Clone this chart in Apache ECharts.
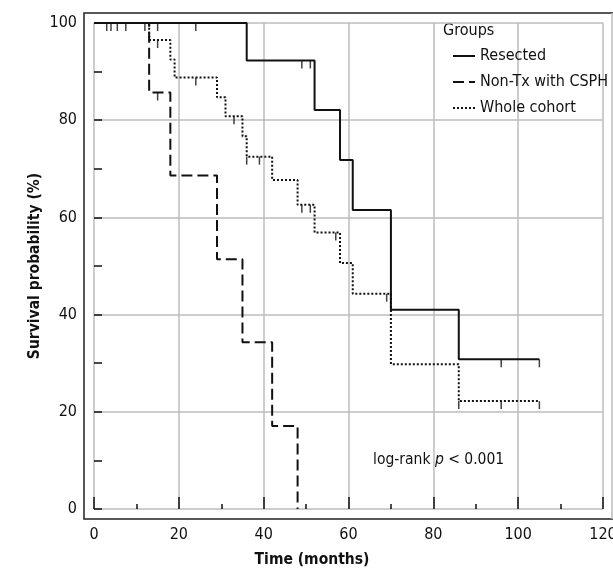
<!DOCTYPE html>
<html>
<head>
<meta charset="utf-8">
<script src="https://cdn.jsdelivr.net/npm/echarts@6/dist/echarts.min.js"></script>
<style>
html, body { margin: 0; padding: 0; background: #fff; }
#km { width: 613px; height: 569px; }
</style>
</head>
<body>
<div id="km"></div>
<script>
// Kaplan-Meier steps
var resectedTime = [0, 36, 52, 58, 61, 70, 86, 105];
var resectedSurv = [100, 92.3, 82.1, 71.8, 61.5, 41.0, 30.8, 30.8];
var nonTxTime = [0, 13, 18, 29, 35, 42, 48];
var nonTxSurv = [100, 85.7, 68.6, 51.4, 34.3, 17.1, 0];
var wholeTime = [0, 13, 18, 19, 29, 31, 35, 36, 42, 48, 52, 58, 61, 70, 86, 105];
var wholeSurv = [100, 96.5, 92.5, 88.8, 84.7, 80.8, 76.7, 72.5, 67.7, 62.6, 56.9, 50.6, 44.3, 29.8, 22.2, 22.2];

// censored observations
var resectedCensorTime = [3, 4, 5.5, 7.5, 12, 15, 24, 49, 51, 96, 105];
var resectedCensorSurv = [100, 100, 100, 100, 100, 100, 100, 92.3, 92.3, 30.8, 30.8];
var nonTxCensorTime = [15];
var nonTxCensorSurv = [85.7];
var wholeCensorTime = [15, 24, 33, 36, 39, 49, 51, 57, 69, 86, 96, 105];
var wholeCensorSurv = [96.5, 88.8, 80.8, 72.5, 72.5, 62.6, 62.6, 56.9, 44.3, 22.2, 22.2, 22.2];

var groupNames = ['Resected', 'Non-Tx with CSPH', 'Whole cohort'];

var font = '"DejaVu Sans Condensed", "DejaVu Sans", sans-serif';
var ink = '#111';

function pairs(xs, ys) {
    return xs.map(function (x, i) { return [x, ys[i]]; });
}

function stepLine(name, xs, ys, type, width) {
    return {
        name: name,
        type: 'line',
        step: 'end',
        symbol: 'none',
        silent: true,
        animation: false,
        lineStyle: { color: ink, width: width, type: type },
        itemStyle: { color: ink },
        data: pairs(xs, ys)
    };
}

function censor(xs, ys) {
    return {
        type: 'scatter',
        symbol: 'rect',
        symbolSize: [1.5, 8],
        symbolOffset: [0, 4],
        silent: true,
        animation: false,
        itemStyle: { color: ink },
        data: pairs(xs, ys)
    };
}

var option = {
    animation: false,
    grid: { left: 94, right: 10, top: 23, bottom: 60, outerBoundsMode: 'none' },
    legend: {
        data: groupNames,
        orient: 'vertical',
        left: 447,
        top: 43,
        itemWidth: 22,
        itemHeight: 10,
        itemGap: 10,
        itemStyle: { opacity: 0 },
        textStyle: { fontSize: 16, fontFamily: font, color: ink }
    },
    xAxis: {
        type: 'value',
        min: 0,
        max: 120,
        interval: 20,
        offset: 10,
        name: 'Time (months)',
        nameLocation: 'middle',
        nameGap: 33,
        nameMoveOverlap: false,
        nameTextStyle: { fontSize: 15.5, fontWeight: 'bold', fontFamily: font, color: ink, padding: [0, 73, 0, 0] },
        axisLine: { show: false },
        axisTick: { show: true, inside: true, length: 12, lineStyle: { color: ink, width: 1.5 } },
        minorTick: { show: true, splitNumber: 2, length: 5, lineStyle: { color: ink, width: 1.5 } },
        axisLabel: { fontSize: 16, fontFamily: font, color: ink, margin: 8, showMaxLabel: true },
        splitLine: { show: true, lineStyle: { color: '#bdbdbd', width: 1.5 } }
    },
    yAxis: {
        type: 'value',
        min: 0,
        max: 100,
        interval: 20,
        offset: 10,
        name: 'Survival probability (%)',
        nameLocation: 'middle',
        nameGap: 41,
        nameMoveOverlap: false,
        nameTextStyle: { fontSize: 15.5, fontWeight: 'bold', fontFamily: font, color: ink },
        axisLine: { show: false },
        axisTick: { show: true, inside: true, length: 8, lineStyle: { color: ink, width: 1.5 } },
        minorTick: { show: true, splitNumber: 2, length: 8, lineStyle: { color: ink, width: 1.5 } },
        axisLabel: { fontSize: 16, fontFamily: font, color: ink, margin: 7 },
        splitLine: { show: true, lineStyle: { color: '#bdbdbd', width: 1.5 } }
    },
    graphic: [
        {
            type: 'polyline',
            silent: true,
            shape: { points: [[613, 13], [84, 13], [84, 519], [613, 519]] },
            style: { stroke: '#222', lineWidth: 1.5, fill: null }
        },
        {
            type: 'line',
            silent: true,
            shape: { x1: 612, y1: 13, x2: 612, y2: 519 },
            style: { stroke: '#bdbdbd', lineWidth: 1.5 }
        },
        {
            type: 'text',
            left: 443,
            top: 23,
            style: { text: 'Groups', fontSize: 16, fontFamily: font, fill: ink }
        },
        {
            type: 'text',
            left: 373,
            top: 452,
            style: {
                text: '{a|log-rank }{b|p}{a| < 0.001}',
                rich: {
                    a: { fontSize: 15.5, fontFamily: font, fill: ink },
                    b: { fontSize: 15.5, fontFamily: font, fontStyle: 'italic', fill: ink }
                }
            }
        }
    ],
    series: [
        stepLine(groupNames[0], resectedTime, resectedSurv, 'solid', 2),
        stepLine(groupNames[1], nonTxTime, nonTxSurv, [11, 5], 2),
        stepLine(groupNames[2], wholeTime, wholeSurv, [2, 2], 2),
        censor(resectedCensorTime, resectedCensorSurv),
        censor(nonTxCensorTime, nonTxCensorSurv),
        censor(wholeCensorTime, wholeCensorSurv)
    ]
};

var myChart = echarts.init(document.getElementById('km'));
myChart.setOption(option);
</script>
</body>
</html>
